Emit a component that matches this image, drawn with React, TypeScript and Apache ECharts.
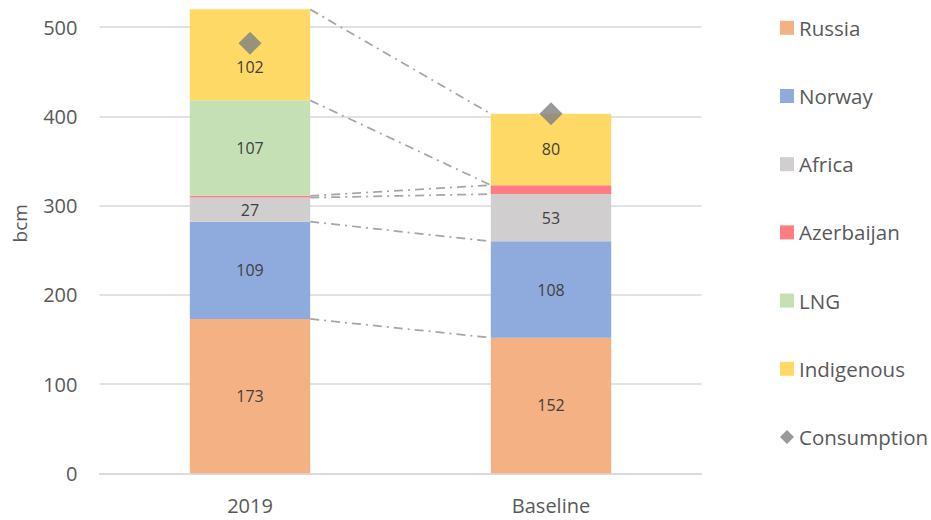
import React, { useEffect, useRef } from "react";
import * as echarts from "echarts";

const categories = ["2019", "Baseline"];
const russia = [173, 152];
const norway = [109, 108];
const africa = [27, 53];
const azerbaijan = [2, 10];
const lng = [107, 0];
const indigenous = [102, 80];
const consumption = [482, 403];

const yTicks = [0, 100, 200, 300, 400, 500];

const seriesDefs = [
  { name: "Russia", data: russia, color: "#F4B183", label: true },
  { name: "Norway", data: norway, color: "#8FAADC", label: true },
  { name: "Africa", data: africa, color: "#D0CECE", label: true },
  { name: "Azerbaijan", data: azerbaijan, color: "#FF7C80", label: false },
  { name: "LNG", data: lng, color: "#C5E0B4", label: true },
  { name: "Indigenous", data: indigenous, color: "#FFD966", label: true },
];

const FONT = "Open Sans";
const BAR_FRAC = 0.4;
const SHIFT = 62.3; // chart canvas extends above the visible page (axis goes to 600)

export default function App() {
  const ref = useRef<HTMLDivElement>(null);
  useEffect(() => {
    if (!ref.current) return;
    const chart = echarts.init(ref.current, undefined, { renderer: "svg" });

    const barSeries = seriesDefs.map((s) => ({
      name: s.name,
      type: "bar",
      stack: "total",
      xAxisIndex: 0,
      yAxisIndex: 0,
      barWidth: BAR_FRAC * 100 + "%",
      itemStyle: { color: s.color },
      data: s.data.map((v, i) =>
        s.name === "Indigenous" && i === 0
          ? { value: v, label: { offset: [0, 12] } }
          : v
      ),
      label: {
        show: s.label,
        position: "inside",
        color: "#404040",
        fontFamily: FONT,
        fontSize: 16,
        formatter: (p: any) => (p.value > 0 ? String(p.value) : ""),
      },
      emphasis: { disabled: true },
    }));

    const cum = [0, 0];
    const lineSeries: any[] = [];
    seriesDefs.forEach((s) => {
      cum[0] += s.data[0];
      cum[1] += s.data[1];
      lineSeries.push({
        type: "line",
        xAxisIndex: 1,
        yAxisIndex: 0,
        symbol: "none",
        silent: true,
        z: 1,
        lineStyle: { color: "#A6A6A6", width: 1.75, type: [9, 5, 2, 5] },
        data: [
          [BAR_FRAC / 2, cum[0]],
          [1 - BAR_FRAC / 2, cum[1]],
        ],
      });
    });

    const option: any = {
      animation: false,
      textStyle: { fontFamily: FONT },
      grid: { left: 99.5, right: 229.5, top: 0, bottom: 46.7, containLabel: false },
      legend: {
        orient: "vertical",
        left: 775,
        top: 12 + SHIFT,
        itemWidth: 14,
        itemHeight: 14,
        itemGap: 47.2,
        textStyle: { fontFamily: FONT, fontSize: 20.5, color: "#595959", lineHeight: 20 },
        data: [
          ...seriesDefs.map((s) => ({ name: s.name, icon: "rect" })),
          { name: "Consumption", icon: "diamond" },
        ],
      },
      xAxis: [
        {
          type: "category",
          data: categories,
          axisLine: { lineStyle: { color: "#D9D9D9", width: 1.5 } },
          axisTick: { show: false },
          axisLabel: { color: "#595959", fontFamily: FONT, fontSize: 20, margin: 22 },
        },
        {
          type: "value",
          min: -0.5,
          max: 1.5,
          show: false,
        },
      ],
      yAxis: {
        type: "value",
        min: 0,
        max: 600,
        interval: 100,
        axisLine: { show: false },
        axisTick: { show: false },
        splitLine: { lineStyle: { color: "#D9D9D9", width: 1.5 } },
        axisLabel: {
          color: "#595959",
          fontFamily: FONT,
          fontSize: 20,
          margin: 22,
          formatter: (v: number) => (yTicks.includes(v) ? String(v) : ""),
        },
      },
      graphic: [
        {
          type: "text",
          x: 20,
          y: 223 + SHIFT,
          rotation: Math.PI / 2,
          style: {
            text: "bcm",
            fill: "#595959",
            font: `19px "${FONT}"`,
            align: "center",
            verticalAlign: "middle",
          },
        },
      ],
      series: [
        ...lineSeries,
        ...barSeries,
        {
          name: "Consumption",
          type: "scatter",
          xAxisIndex: 0,
          yAxisIndex: 0,
          symbol: "diamond",
          symbolSize: 23,
          itemStyle: { color: "#7F7F7F" },
          data: consumption,
          z: 5,
          emphasis: { disabled: true },
        },
      ],
    };
    chart.setOption(option);
    return () => chart.dispose();
  }, []);
  return (
    <div style={{ position: "fixed", left: 0, top: 0, width: 931, height: 520, overflow: "hidden", background: "#fff" }}>
      <div
        ref={ref}
        style={{ position: "absolute", left: 0, top: -SHIFT, width: 931, height: 520 + SHIFT }}
      />
    </div>
  );
}
